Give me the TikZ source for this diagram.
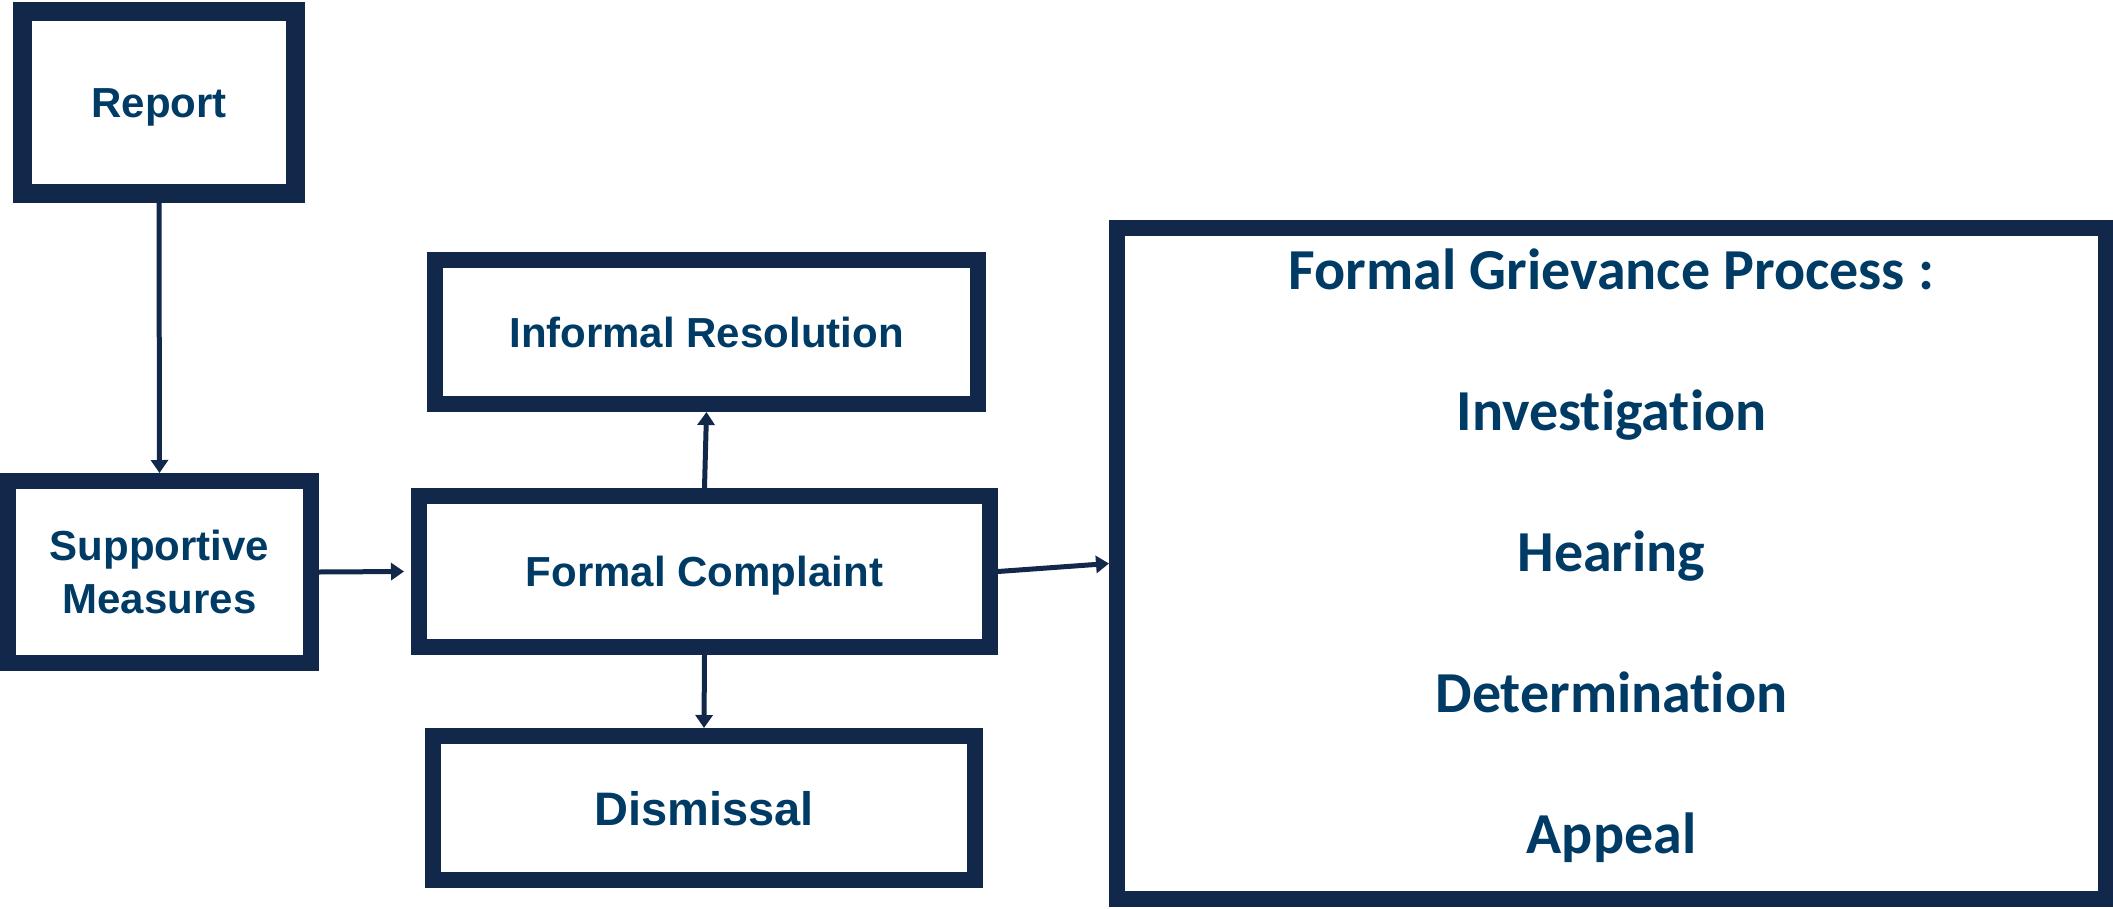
\documentclass[tikz,border=0pt]{standalone}
\usepackage{fontspec}
\setmainfont{Liberation Sans}
\newfontfamily\calib[Ligatures=NoCommon]{Carlito}
\usetikzlibrary{arrows.meta}
\definecolor{navy}{HTML}{12284B}
\definecolor{txtblue}{HTML}{003B66}
\tikzset{
  box/.style={draw=navy, line width=16pt, rectangle, inner sep=0pt, text=txtblue,
    font=\bfseries\fontsize{42}{53}\selectfont, align=center,
    text height=30pt, text depth=0pt},
  conn/.style={draw=navy, line width=5pt, -{Triangle[length=13pt,width=17pt]}}
}
\begin{document}
\begin{tikzpicture}[x=1pt,y=-1pt]
\useasboundingbox (0,0) rectangle (2113,908);
\node[box, line width=19pt, minimum width=273pt, minimum height=182pt] (rep) at (159,102.5) {Report};
\node[box, minimum width=303pt, minimum height=182pt, text height=83pt] (supp) at (159.5,572) {Supportive\\Measures};
\node[box, minimum width=543pt, minimum height=144pt] (ir) at (706.5,332) {Informal Resolution};
\node[box, minimum width=571pt, minimum height=151pt] (fc) at (704.5,571.5) {Formal Complaint};
\node[box, minimum width=542pt, minimum height=144pt, font=\bfseries\fontsize{47}{53}\selectfont, text height=34pt] (dis) at (704,808) {Dismissal};
\node[box, minimum width=989pt, minimum height=671pt, font=\calib\bfseries\fontsize{58}{141}\selectfont, text height=601pt, text depth=22pt] (fgp) at (1611.5,563.5) {Formal Grievance Process :\\Investigation\\Hearing\\Determination\\Appeal};
\draw[conn] (rep.south) -- (supp.north);
\draw[conn] (supp.east) -- ([xshift=-7pt]fc.west);
\draw[conn] (fc.north) -- (ir.south);
\draw[conn] (fc.south) -- (dis.north);
\draw[conn] (fc.east) -- (fgp.west);
\end{tikzpicture}
\end{document}
